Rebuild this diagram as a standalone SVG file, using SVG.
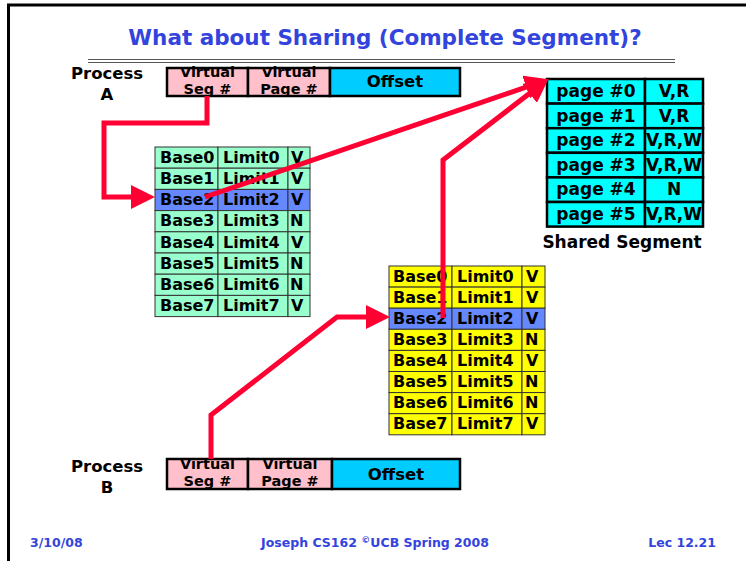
<svg xmlns="http://www.w3.org/2000/svg" width="746" height="561" viewBox="0 0 746 561">
  <style>
    text { font-family: "DejaVu Sans", "Liberation Sans", sans-serif; font-weight: bold; }
    .title { fill: #3344dd; font-size: 21.5px; }
    .foot { fill: #3344dd; font-size: 12.5px; }
    .lbl { fill: #000; font-size: 16.5px; }
    .pg { fill: #000; font-size: 17px; }
    .cell { font-size: 16px; fill: #000; }
    .vcell { font-size: 14.5px; fill: #000; }
    .pink { fill: #ffc0cb; stroke: #000; stroke-width: 2.5; }
    .off { fill: #00ccff; stroke: #000; stroke-width: 2.5; }
    .grn { fill: #99ffcc; stroke: #333; stroke-width: 1; }
    .yel { fill: #ffff00; stroke: #333; stroke-width: 1; }
    .sel { fill: #6688ff; stroke: #333; stroke-width: 1; }
    .cyan { fill: #00ffff; stroke: #000; stroke-width: 2.5; }
    .wire { fill: none; stroke: #ff0033; stroke-width: 5; stroke-linejoin: miter; }
  </style>
  <defs>
    <marker id="head" markerUnits="userSpaceOnUse" markerWidth="24" markerHeight="24" refX="10" refY="10" orient="auto" viewBox="0 0 20 20">
      <path d="M0,0 L20,10 L0,20 z" fill="#ff0033"/>
    </marker>
  </defs>

  <!-- slide frame -->
  <path d="M7,5 H746 M8.5,4 V561" stroke="#000" stroke-width="3" fill="none"/>

  <text class="title" x="385" y="45" text-anchor="middle">What about Sharing (Complete Segment)?</text>
  <path d="M88,59.5 H675 M88,62.5 H675" stroke="#555" stroke-width="1.2"/>

  <!-- Process A virtual address -->
  <g id="procA">
    <text class="lbl" x="107" y="79" text-anchor="middle">Process</text>
    <text class="lbl" x="107" y="100" text-anchor="middle">A</text>
    <rect class="pink" x="167" y="68" width="81" height="28"/>
    <rect class="pink" x="248" y="68" width="82" height="28"/>
    <rect class="off" x="330" y="68" width="130" height="28"/>
    <text class="vcell" x="207.5" y="77" text-anchor="middle">Virtual</text>
    <text class="vcell" x="207.5" y="94" text-anchor="middle">Seg #</text>
    <text class="vcell" x="289" y="77" text-anchor="middle">Virtual</text>
    <text class="vcell" x="289" y="94" text-anchor="middle">Page #</text>
    <text class="lbl" x="395" y="87" text-anchor="middle">Offset</text>
  </g>

  <!-- Process B virtual address -->
  <g id="procB">
    <text class="lbl" x="107" y="472" text-anchor="middle">Process</text>
    <text class="lbl" x="107" y="493" text-anchor="middle">B</text>
    <rect class="pink" x="167" y="459" width="81" height="30"/>
    <rect class="pink" x="248" y="459" width="84" height="30"/>
    <rect class="off" x="332" y="459" width="128" height="30"/>
    <text class="vcell" x="207.5" y="469" text-anchor="middle">Virtual</text>
    <text class="vcell" x="207.5" y="486" text-anchor="middle">Seg #</text>
    <text class="vcell" x="290" y="469" text-anchor="middle">Virtual</text>
    <text class="vcell" x="290" y="486" text-anchor="middle">Page #</text>
    <text class="lbl" x="396" y="480" text-anchor="middle">Offset</text>
  </g>

  <!-- Segment table of process A -->
  <g id="segTableA">
    <rect class="grn" x="155" y="147" width="63" height="21.2"/><rect class="grn" x="218" y="147" width="70" height="21.2"/><rect class="grn" x="288" y="147" width="22" height="21.2"/>
    <rect class="grn" x="155" y="168.2" width="63" height="21.2"/><rect class="grn" x="218" y="168.2" width="70" height="21.2"/><rect class="grn" x="288" y="168.2" width="22" height="21.2"/>
    <rect class="sel" x="155" y="189.4" width="63" height="21.2"/><rect class="sel" x="218" y="189.4" width="70" height="21.2"/><rect class="sel" x="288" y="189.4" width="22" height="21.2"/>
    <rect class="grn" x="155" y="210.6" width="63" height="21.2"/><rect class="grn" x="218" y="210.6" width="70" height="21.2"/><rect class="grn" x="288" y="210.6" width="22" height="21.2"/>
    <rect class="grn" x="155" y="231.8" width="63" height="21.2"/><rect class="grn" x="218" y="231.8" width="70" height="21.2"/><rect class="grn" x="288" y="231.8" width="22" height="21.2"/>
    <rect class="grn" x="155" y="253" width="63" height="21.2"/><rect class="grn" x="218" y="253" width="70" height="21.2"/><rect class="grn" x="288" y="253" width="22" height="21.2"/>
    <rect class="grn" x="155" y="274.2" width="63" height="21.2"/><rect class="grn" x="218" y="274.2" width="70" height="21.2"/><rect class="grn" x="288" y="274.2" width="22" height="21.2"/>
    <rect class="grn" x="155" y="295.4" width="63" height="21.2"/><rect class="grn" x="218" y="295.4" width="70" height="21.2"/><rect class="grn" x="288" y="295.4" width="22" height="21.2"/>
    <g class="cell">
      <text x="160" y="163">Base0</text><text x="223" y="163">Limit0</text><text x="291" y="163">V</text>
      <text x="160" y="184">Base1</text><text x="223" y="184">Limit1</text><text x="291" y="184">V</text>
      <text x="160" y="205">Base2</text><text x="223" y="205">Limit2</text><text x="291" y="205">V</text>
      <text x="160" y="226">Base3</text><text x="223" y="226">Limit3</text><text x="290" y="226">N</text>
      <text x="160" y="248">Base4</text><text x="223" y="248">Limit4</text><text x="291" y="248">V</text>
      <text x="160" y="269">Base5</text><text x="223" y="269">Limit5</text><text x="290" y="269">N</text>
      <text x="160" y="290">Base6</text><text x="223" y="290">Limit6</text><text x="290" y="290">N</text>
      <text x="160" y="311">Base7</text><text x="223" y="311">Limit7</text><text x="291" y="311">V</text>
    </g>
  </g>

  <!-- Segment table of process B -->
  <g id="segTableB">
    <rect class="yel" x="389" y="266" width="63" height="21.1"/><rect class="yel" x="452" y="266" width="70" height="21.1"/><rect class="yel" x="522" y="266" width="23" height="21.1"/>
    <rect class="yel" x="389" y="287.1" width="63" height="21.1"/><rect class="yel" x="452" y="287.1" width="70" height="21.1"/><rect class="yel" x="522" y="287.1" width="23" height="21.1"/>
    <rect class="sel" x="389" y="308.2" width="63" height="21.1"/><rect class="sel" x="452" y="308.2" width="70" height="21.1"/><rect class="sel" x="522" y="308.2" width="23" height="21.1"/>
    <rect class="yel" x="389" y="329.3" width="63" height="21.1"/><rect class="yel" x="452" y="329.3" width="70" height="21.1"/><rect class="yel" x="522" y="329.3" width="23" height="21.1"/>
    <rect class="yel" x="389" y="350.4" width="63" height="21.1"/><rect class="yel" x="452" y="350.4" width="70" height="21.1"/><rect class="yel" x="522" y="350.4" width="23" height="21.1"/>
    <rect class="yel" x="389" y="371.5" width="63" height="21.1"/><rect class="yel" x="452" y="371.5" width="70" height="21.1"/><rect class="yel" x="522" y="371.5" width="23" height="21.1"/>
    <rect class="yel" x="389" y="392.6" width="63" height="21.1"/><rect class="yel" x="452" y="392.6" width="70" height="21.1"/><rect class="yel" x="522" y="392.6" width="23" height="21.1"/>
    <rect class="yel" x="389" y="413.7" width="63" height="21.1"/><rect class="yel" x="452" y="413.7" width="70" height="21.1"/><rect class="yel" x="522" y="413.7" width="23" height="21.1"/>
    <g class="cell">
      <text x="393" y="282">Base0</text><text x="457" y="282">Limit0</text><text x="526" y="282">V</text>
      <text x="393" y="303">Base1</text><text x="457" y="303">Limit1</text><text x="526" y="303">V</text>
      <text x="393" y="324">Base2</text><text x="457" y="324">Limit2</text><text x="526" y="324">V</text>
      <text x="393" y="345">Base3</text><text x="457" y="345">Limit3</text><text x="525" y="345">N</text>
      <text x="393" y="366">Base4</text><text x="457" y="366">Limit4</text><text x="526" y="366">V</text>
      <text x="393" y="387">Base5</text><text x="457" y="387">Limit5</text><text x="525" y="387">N</text>
      <text x="393" y="408">Base6</text><text x="457" y="408">Limit6</text><text x="525" y="408">N</text>
      <text x="393" y="429">Base7</text><text x="457" y="429">Limit7</text><text x="526" y="429">V</text>
    </g>
  </g>

  <!-- Shared segment page table -->
  <g id="sharedSeg">
    <rect class="cyan" x="547" y="79" width="98" height="24.6"/><rect class="cyan" x="645" y="79" width="58" height="24.6"/>
    <rect class="cyan" x="547" y="103.6" width="98" height="24.6"/><rect class="cyan" x="645" y="103.6" width="58" height="24.6"/>
    <rect class="cyan" x="547" y="128.2" width="98" height="24.6"/><rect class="cyan" x="645" y="128.2" width="58" height="24.6"/>
    <rect class="cyan" x="547" y="152.8" width="98" height="24.6"/><rect class="cyan" x="645" y="152.8" width="58" height="24.6"/>
    <rect class="cyan" x="547" y="177.4" width="98" height="24.6"/><rect class="cyan" x="645" y="177.4" width="58" height="24.6"/>
    <rect class="cyan" x="547" y="202" width="98" height="24.6"/><rect class="cyan" x="645" y="202" width="58" height="24.6"/>
    <g class="pg" text-anchor="middle">
      <text x="596" y="97">page #0</text><text x="674" y="97">V,R</text>
      <text x="596" y="122">page #1</text><text x="674" y="122">V,R</text>
      <text x="596" y="146">page #2</text><text x="674" y="146">V,R,W</text>
      <text x="596" y="171">page #3</text><text x="674" y="171">V,R,W</text>
      <text x="596" y="195">page #4</text><text x="674" y="195">N</text>
      <text x="596" y="220">page #5</text><text x="674" y="220">V,R,W</text>
    </g>
    <text class="pg" x="622" y="248" text-anchor="middle">Shared Segment</text>
  </g>

  <!-- translation paths -->
  <g id="connectors">
    <path class="wire" d="M207,96 V123 H104 V197 H143" marker-end="url(#head)"/>
    <path class="wire" d="M205,197 L537.5,83.2" marker-end="url(#head)"/>
    <path class="wire" d="M443,318 V160 L539.1,86.1" marker-end="url(#head)"/>
    <path class="wire" d="M211,459 V415 L337,317 H378" marker-end="url(#head)"/>
  </g>

  <!-- footer -->
  <text class="foot" x="30" y="547">3/10/08</text>
  <text class="foot" x="375" y="547" text-anchor="middle">Joseph CS162 <tspan font-size="9" dy="-4">©</tspan><tspan dy="4">UCB Spring 2008</tspan></text>
  <text class="foot" x="716" y="547" text-anchor="end">Lec 12.21</text>
</svg>
